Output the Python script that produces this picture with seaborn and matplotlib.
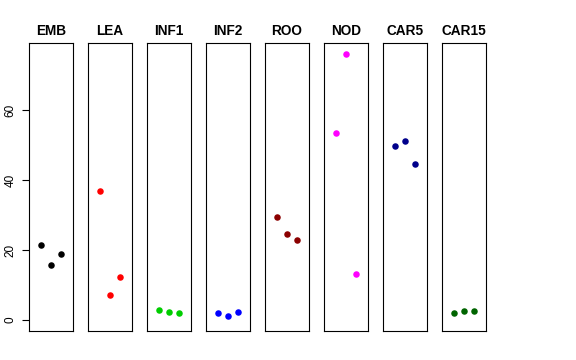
import numpy as np
import pandas as pd
import matplotlib
matplotlib.use("Agg")
import matplotlib.pyplot as plt
import seaborn as sns

sns.set_style("white")
plt.rcParams["font.family"] = ["Liberation Sans", "DejaVu Sans"]
plt.rcParams["text.color"] = "black"
plt.rcParams["ytick.color"] = "black"
plt.rcParams["ytick.labelcolor"] = "black"

# ── data ──────────────────────────────────────────────
groups = ["EMB", "LEA", "INF1", "INF2", "ROO", "NOD", "CAR5", "CAR15"]
reps = [1, 2, 3]
emb = [21.4, 15.8, 18.8]
lea = [36.9, 7.1, 12.2]
inf1 = [2.9, 2.2, 2.1]
inf2 = [2.0, 1.1, 2.3]
roo = [29.4, 24.5, 23.0]
nod = [53.5, 76.1, 13.1]
car5 = [49.6, 51.0, 44.5]
car15 = [1.9, 2.5, 2.7]
colors = ["#000000", "#FF0000", "#00CD00", "#0000FF",
          "#8B0000", "#FF00FF", "#00008B", "#006400"]
yticks = [0, 20, 40, 60]

values = [emb, lea, inf1, inf2, roo, nod, car5, car15]
df = pd.DataFrame({
    "group": np.repeat(groups, len(reps)),
    "rep": reps * len(groups),
    "value": np.concatenate(values),
})

# ── figure ────────────────────────────────────────────
W, H = 576, 360
fig = plt.figure(figsize=(W / 100, H / 100), dpi=100)
left0, pw, step = 29, 44, 59
top, bottom = 43, 331

for i, g in enumerate(groups):
    ax = fig.add_axes([(left0 + i * step) / W, 1 - bottom / H,
                       pw / W, (bottom - top) / H])
    sub = df[df["group"] == g]
    sns.scatterplot(data=sub, x="rep", y="value", color=colors[i],
                    s=22, linewidth=0, ax=ax, legend=False)
    ax.set_xlim(-0.16, 4.16)
    ax.set_ylim(-3.1, 79.1)
    ax.set_xticks([])
    ax.set_xlabel("")
    ax.set_ylabel("")
    ax.set_title(g, fontsize=9.8, fontweight="bold", pad=6, color="black")
    for sp in ax.spines.values():
        sp.set_color("black")
        sp.set_linewidth(0.8)
    if i == 0:
        ax.set_yticks(yticks)
        ax.set_yticklabels([str(t) for t in yticks], rotation=90,
                           va="center", fontsize=8.5)
        ax.tick_params(axis="y", left=True, length=5, width=0.8, pad=4,
                       colors="black")
    else:
        ax.set_yticks([])

fig.savefig("out.png", dpi=100)
